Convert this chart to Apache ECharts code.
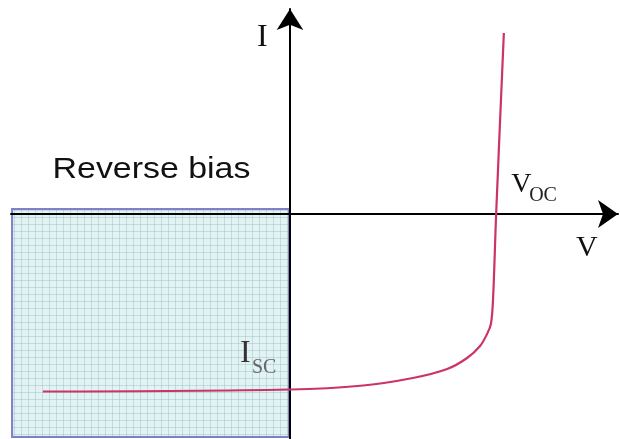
<!DOCTYPE html>
<html><head><meta charset="utf-8">
<script src="https://cdn.jsdelivr.net/npm/echarts@6/dist/echarts.min.js"></script>
<style>html,body{margin:0;padding:0;background:#fff}#chart{width:620px;height:439px}</style>
</head><body><div id="chart"></div>
<script>
// Solar cell I–V characteristic (voltage in V, current in mA)
const voltage = [-0.706, 0, 0.209, 0.351, 0.449, 0.506, 0.543, 0.563, 0.574, 0.580, 0.589, 0.611];
const current = [-35.5, -35.1, -34.3, -32.8, -31.0, -28.8, -26.4, -24.0, -22.0, -17.2, 0, 36.2];
const vRange = [-0.8, 0.9371];
const iRange = [-45, 41];
// shaded reverse-bias region
const reverseBiasV = [-0.794, -0.003];
const reverseBiasI = [-44.6, 1];
const vOc = 0.589;
const iSc = -35.1;

function gridPattern() {
  const c = document.createElement('canvas');
  c.width = 7; c.height = 7;
  const g = c.getContext('2d');
  g.fillStyle = '#e3f2f2'; g.fillRect(0, 0, 7, 7);
  g.fillStyle = 'rgba(130,180,185,0.35)';
  g.fillRect(0, 0, 7, 1); g.fillRect(0, 0, 1, 7);
  return c;
}

const chart = echarts.init(document.getElementById('chart'), null, {renderer: 'canvas'});
const axisCommon = {
  type: 'value', z: 5,
  axisTick: {show: false}, axisLabel: {show: false}, splitLine: {show: false},
};
chart.setOption({
  animation: false,
  grid: {left: 11, right: 2, top: 9, bottom: 0},
  xAxis: Object.assign({}, axisCommon, {
    min: vRange[0] + 0.003, max: vRange[1],
    axisLine: {onZero: true, symbol: ['none', 'arrow'], symbolSize: [21, 20], lineStyle: {color: '#000', width: 2}}
  }),
  yAxis: Object.assign({}, axisCommon, {
    min: iRange[0], max: iRange[1],
    axisLine: {onZero: true, symbol: ['none', 'arrow'], symbolSize: [20, 21], lineStyle: {color: '#000', width: 2}}
  }),
  series: [
    {
      type: 'line', data: [], z: 1, silent: true,
      markArea: {
        silent: true,
        itemStyle: {color: {image: gridPattern(), repeat: 'repeat'}, borderColor: '#8080c8', borderWidth: 2},
        data: [[{coord: [reverseBiasV[0], reverseBiasI[0]]}, {coord: [reverseBiasV[1], reverseBiasI[1]]}]]
      }
    },
    {
      type: 'line', z: 10, smooth: 0.35, symbol: 'none',
      lineStyle: {color: '#cc3366', width: 2.2},
      data: voltage.map((v, k) => [v, current[k]])
    }
  ]
});

const serif = '"Liberation Serif", "DejaVu Serif", serif';
const pOrigin = chart.convertToPixel({gridIndex: 0}, [0, 0]);
const pVoc = chart.convertToPixel({gridIndex: 0}, [vOc, 0]);
const pIsc = chart.convertToPixel({gridIndex: 0}, [0, iSc]);
const pRev = chart.convertToPixel({gridIndex: 0}, [(reverseBiasV[0] + reverseBiasV[1]) / 2, reverseBiasI[1]]);
function txt(text, x, y, font, fill, align, sx) {
  return {
    type: 'text', z: 20, x: x, y: y, scaleX: sx || 1,
    style: {text: text, x: 0, y: 0, font: font, fill: fill, textAlign: align || 'left', textVerticalAlign: 'middle'}
  };
}
chart.setOption({
  graphic: [
    txt('Reverse bias', pRev[0] + 1, pRev[1] - 39, '30px "Liberation Sans", Arial, sans-serif', '#111', 'center', 1.13),
    txt('I', pOrigin[0] - 33, 38, '32px ' + serif, '#111'),
    txt('V', 576, 248, '30px ' + serif, '#111'),
    txt('V', pVoc[0] + 15, pVoc[1] - 29, '28px ' + serif, '#111'),
    txt('OC', pVoc[0] + 33, pVoc[1] - 18, '20px ' + serif, '#222'),
    txt('I', pIsc[0] - 50, pIsc[1] - 36, '32px ' + serif, '#333'),
    txt('SC', pIsc[0] - 38, pIsc[1] - 22, '20px ' + serif, '#666')
  ]
});
</script></body></html>
